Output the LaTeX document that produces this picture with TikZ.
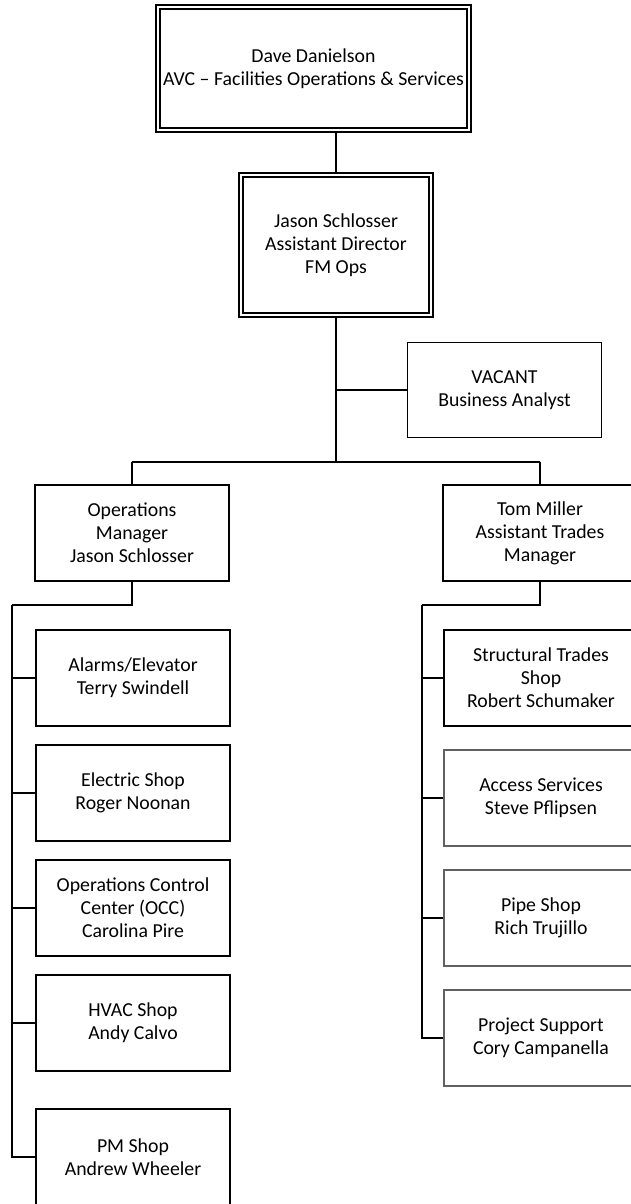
\documentclass[tikz,border=0pt]{standalone}
\usepackage{fontspec}
\setmainfont{Carlito}
\definecolor{boxgray}{rgb}{0.38,0.38,0.38}
\begin{document}
\begin{tikzpicture}[x=1pt,y=-1pt,
  every node/.style={font=\fontsize{19.8}{23}\selectfont, align=center, inner sep=0pt},
  box/.style={draw=black, line width=1.6pt, minimum width=194pt, minimum height=96pt},
  graybox/.style={box, draw=boxgray},
  dbl/.style={draw=black, line width=1.9pt},
  conn/.style={draw=black, line width=1.6pt}]
\useasboundingbox (0,0) rectangle (630,1204);
% top boxes
\node[dbl, minimum width=315pt, minimum height=127pt] (top) at (313.5,68.5) {Dave Danielson\\AVC -- Facilities Operations \& Services};
\draw[line width=1.2pt] ([shift={(5pt,-5pt)}]top.north west) rectangle ([shift={(-5pt,5pt)}]top.south east);
\node[dbl, minimum width=194pt, minimum height=144pt] (second) at (336,245) {Jason Schlosser\\Assistant Director\\FM Ops};
\draw[line width=1.2pt] ([shift={(5pt,-5pt)}]second.north west) rectangle ([shift={(-5pt,5pt)}]second.south east);
\node[box, minimum height=95pt] (vacant) at (504.5,390) {VACANT\\Business Analyst};
% managers
\node[box] (ops) at (132,533) {Operations\\Manager\\Jason Schlosser};
\node[box] (tom) at (540,533) {Tom Miller\\Assistant Trades\\Manager};
% left children
\node[box] (alarms) at (133,678) {Alarms/Elevator\\Terry Swindell};
\node[box] (electric) at (133,793) {Electric Shop\\Roger Noonan};
\node[box] (occ) at (133,908) {Operations Control\\Center (OCC)\\Carolina Pire};
\node[box] (hvac) at (133,1023) {HVAC Shop\\Andy Calvo};
\node[box] (pm) at (133,1157) {PM Shop\\Andrew Wheeler};
% right children
\node[box] (struct) at (541,678) {Structural Trades\\Shop\\Robert Schumaker};
\node[graybox] (access) at (541,798) {Access Services\\Steve Pflipsen};
\node[graybox] (pipe) at (541,918) {Pipe Shop\\Rich Trujillo};
\node[graybox] (proj) at (541,1038) {Project Support\\Cory Campanella};
% coordinates
\coordinate (topout) at (second.north |- top.south);
\coordinate (busmid) at (336,462);
\coordinate (busl) at (132,462);
\coordinate (busr) at (540,462);
\coordinate (vj) at (336,390);
\coordinate (lturn) at (132,605);
\coordinate (lbus) at (12,605);
\coordinate (rturn) at (540,605);
\coordinate (rbus) at (422,605);
% connectors
\draw[conn] (topout) -- (second.north);
\draw[conn] (second.south) -- (busmid);
\draw[conn] (vj) -- (vacant.west);
\draw[conn] (busl) -- (busr);
\draw[conn] (busl) -- (ops.north);
\draw[conn] (busr) -- (tom.north);
\draw[conn] (ops.south) -- (lturn) -- (lbus);
\draw[conn] (lbus) |- (alarms.west);
\draw[conn] (lbus) |- (electric.west);
\draw[conn] (lbus) |- (occ.west);
\draw[conn] (lbus) |- (hvac.west);
\draw[conn] (lbus) |- (pm.west);
\draw[conn] (tom.south) -- (rturn) -- (rbus);
\draw[conn] (rbus) |- (struct.west);
\draw[conn] (rbus) |- (access.west);
\draw[conn] (rbus) |- (pipe.west);
\draw[conn] (rbus) |- (proj.west);
\end{tikzpicture}
\end{document}
